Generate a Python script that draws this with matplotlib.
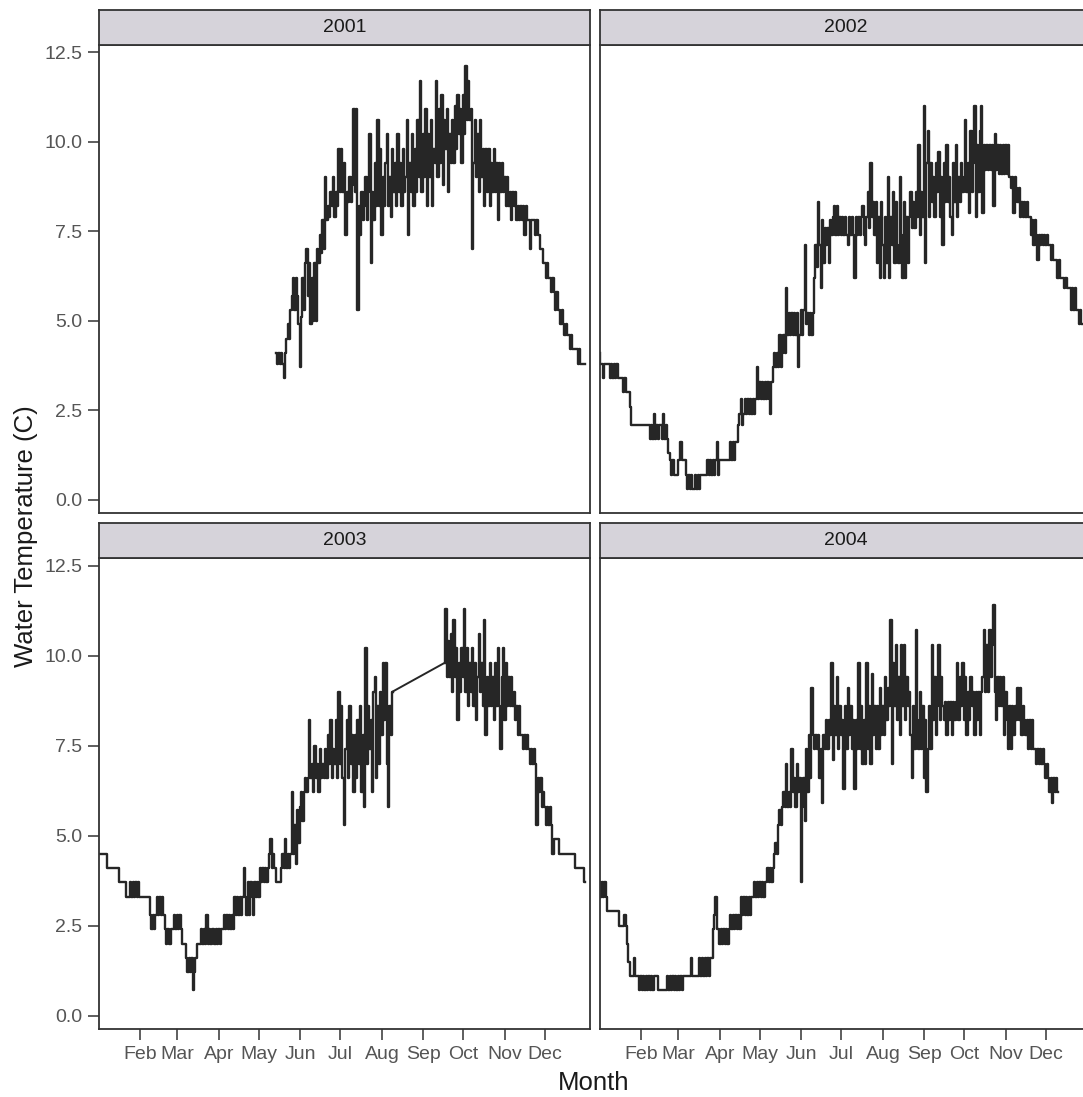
import numpy as np
import matplotlib
matplotlib.use("Agg")
import matplotlib.pyplot as plt

plt.rcParams['font.family'] = ['Liberation Sans', 'DejaVu Sans']

# water temperature (C), one reading per day
# first day-of-year of each series is given separately
start_2001 = 134
temp_2001 = [
    4.1, 3.8, 4.1, 3.8, 4.1, 3.8, 3.4, 4.1, 4.5, 4.9,
    4.5, 5.3, 5.7, 6.2, 5.3, 6.2, 5.7, 4.9, 3.7, 5.1,
    6.2, 5.3, 6.6, 7.0, 5.7, 6.6, 4.9, 6.2, 5.0, 6.6,
    5.0, 7.0, 6.6, 7.4, 6.9, 7.8, 7.0, 9.0, 7.8, 8.2,
    7.9, 8.6, 8.2, 9.0, 7.9, 8.6, 8.2, 9.8, 8.6, 9.8,
    8.6, 9.4, 7.4, 8.6, 8.3, 9.0, 8.3, 8.8, 10.9, 8.6,
    10.9, 5.3, 8.2, 7.4, 8.6, 7.8, 8.2, 9.0, 7.8, 8.6,
    10.2, 6.6, 8.6, 7.8, 9.4, 8.2, 10.6, 8.2, 9.8, 7.4,
    9.0, 8.2, 9.4, 10.2, 8.2, 9.0, 7.9, 9.8, 8.6, 9.4,
    8.2, 10.2, 8.6, 9.4, 8.2, 9.8, 8.6, 9.0, 10.6, 7.4,
    9.4, 8.6, 10.2, 8.2, 9.8, 8.6, 10.6, 9.0, 11.7, 8.6,
    10.2, 9.0, 10.9, 8.2, 10.2, 9.0, 10.6, 8.2, 9.8, 9.4,
    11.7, 9.0, 10.9, 9.4, 11.3, 8.8, 10.6, 9.8, 10.9, 8.6,
    10.2, 9.4, 10.6, 9.4, 11.0, 9.8, 11.3, 10.2, 10.9, 9.4,
    11.3, 10.2, 12.1, 10.6, 11.7, 10.6, 10.9, 7.0, 9.4, 10.6,
    9.0, 10.2, 8.6, 10.6, 9.0, 9.8, 8.2, 9.8, 8.6, 9.8,
    8.2, 9.4, 8.6, 9.8, 8.6, 9.4, 7.8, 9.4, 8.6, 9.4,
    8.6, 9.0, 8.2, 9.0, 8.2, 8.6, 7.8, 8.6, 8.2, 8.6,
    7.8, 8.2, 7.8, 8.2, 7.8, 8.2, 7.4, 8.2, 7.8, 7.8,
    7.0, 7.8, 7.8, 7.8, 7.4, 7.8, 7.4, 7.4, 7.0, 7.0,
    6.6, 6.6, 6.2, 6.6, 6.2, 6.2, 5.8, 6.2, 5.8, 5.3,
    5.8, 5.3, 5.3, 4.9, 5.3, 4.9, 4.6, 4.9, 4.6, 4.6,
    4.2, 4.6, 4.2, 4.2, 4.2, 4.2, 3.8, 4.2, 3.8, 3.8,
    3.8, 3.8,
]

start_2002 = 1
temp_2002 = [
    4.1, 3.8, 3.8, 3.4, 3.8, 3.8, 3.8, 3.8, 3.4, 3.8,
    3.4, 3.8, 3.4, 3.8, 3.4, 3.4, 3.4, 3.4, 3.0, 3.4,
    3.0, 3.0, 3.0, 2.6, 2.1, 2.1, 2.1, 2.1, 2.1, 2.1,
    2.1, 2.1, 2.1, 2.1, 2.1, 2.1, 2.1, 2.1, 1.7, 2.1,
    1.7, 2.4, 1.7, 2.1, 1.7, 2.1, 2.1, 1.7, 2.4, 1.7,
    2.1, 1.7, 1.3, 1.1, 0.7, 1.1, 0.7, 0.7, 0.7, 1.1,
    1.1, 1.6, 1.1, 1.1, 1.1, 0.7, 0.3, 0.7, 0.3, 0.7,
    0.3, 0.3, 0.7, 0.3, 0.7, 0.3, 0.7, 0.7, 0.7, 0.7,
    0.7, 1.1, 0.7, 1.1, 0.7, 1.1, 0.7, 1.1, 1.6, 0.7,
    1.1, 1.1, 1.1, 1.1, 1.1, 1.1, 1.1, 1.1, 1.6, 1.1,
    1.6, 1.1, 1.6, 1.6, 2.1, 2.4, 2.8, 2.1, 2.4, 2.8,
    2.4, 2.8, 2.4, 2.8, 2.4, 2.8, 2.4, 2.8, 3.7, 2.8,
    3.3, 2.8, 3.3, 2.8, 3.3, 2.8, 3.3, 2.8, 2.4, 3.3,
    3.7, 4.1, 3.7, 4.1, 3.7, 4.6, 3.7, 4.1, 4.6, 4.1,
    5.9, 4.6, 5.2, 4.6, 5.2, 4.6, 5.2, 4.6, 5.2, 3.7,
    4.6, 5.3, 4.6, 5.3, 7.1, 4.9, 5.2, 4.6, 5.2, 4.6,
    5.2, 6.2, 7.1, 6.5, 8.3, 7.1, 5.9, 7.8, 6.6, 7.6,
    7.1, 7.6, 6.6, 7.8, 7.4, 7.9, 8.2, 7.4, 8.2, 7.4,
    7.9, 7.4, 7.9, 7.4, 7.9, 7.4, 7.1, 7.9, 7.4, 7.9,
    7.4, 6.2, 7.9, 7.4, 7.9, 7.4, 7.9, 8.2, 7.4, 7.1,
    7.9, 8.6, 7.6, 9.4, 7.9, 8.3, 7.4, 8.3, 6.6, 7.9,
    6.2, 8.3, 7.1, 6.2, 7.9, 6.6, 9.0, 6.2, 7.9, 7.1,
    8.6, 6.6, 8.3, 7.1, 6.6, 9.0, 7.4, 6.2, 8.3, 6.2,
    7.9, 6.6, 7.9, 8.6, 7.6, 8.3, 7.6, 8.6, 7.9, 9.9,
    7.4, 8.6, 7.9, 11.0, 6.6, 9.4, 10.3, 7.9, 9.4, 8.3,
    9.0, 7.9, 9.4, 8.6, 9.7, 7.9, 9.0, 7.1, 9.4, 8.3,
    9.9, 8.3, 9.0, 7.9, 7.4, 9.4, 8.3, 9.9, 7.9, 9.0,
    8.3, 9.4, 8.6, 9.0, 10.6, 8.6, 9.4, 8.0, 10.3, 8.6,
    9.4, 11.0, 7.9, 9.9, 8.6, 10.3, 11.0, 8.0, 9.9, 9.2,
    9.9, 9.2, 9.9, 9.2, 9.9, 8.2, 10.2, 9.2, 9.9, 9.1,
    9.9, 9.1, 9.9, 9.1, 9.9, 9.1, 9.9, 9.0, 8.7, 9.0,
    8.0, 9.0, 8.7, 8.3, 8.7, 7.9, 8.3, 7.9, 8.3, 7.9,
    8.3, 7.9, 7.9, 7.4, 7.8, 7.1, 7.8, 7.4, 6.7, 7.4,
    7.1, 7.4, 7.1, 7.4, 7.1, 7.4, 7.1, 7.1, 6.7, 7.1,
    6.7, 6.7, 6.7, 6.2, 6.7, 6.2, 6.2, 6.2, 5.9, 6.2,
    5.9, 5.9, 5.9, 5.3, 5.9, 5.3, 5.9, 5.3, 5.3, 4.9,
    5.3, 4.9, 4.9, 4.9, 4.9,
]

# 2003 has a logger gap between early August and mid September
start_2003a = 1
temp_2003a = [
    4.5, 4.5, 4.5, 4.5, 4.5, 4.5, 4.5, 4.1, 4.1, 4.1,
    4.1, 4.1, 4.1, 4.1, 4.1, 4.1, 3.7, 3.7, 3.7, 3.7,
    3.7, 3.3, 3.3, 3.3, 3.7, 3.3, 3.7, 3.3, 3.7, 3.3,
    3.7, 3.3, 3.3, 3.3, 3.3, 3.3, 3.3, 3.3, 3.3, 2.8,
    2.4, 2.8, 2.4, 2.8, 3.3, 2.8, 3.3, 2.8, 3.3, 2.8,
    2.4, 2.0, 2.4, 2.0, 2.0, 2.4, 2.4, 2.8, 2.4, 2.8,
    2.4, 2.8, 2.4, 2.0, 2.0, 2.0, 1.6, 1.2, 1.6, 1.2,
    1.6, 0.7, 1.2, 1.6, 2.0, 2.0, 2.0, 2.4, 2.0, 2.4,
    2.0, 2.8, 2.0, 2.4, 2.0, 2.4, 2.4, 2.0, 2.4, 2.0,
    2.4, 2.0, 2.4, 2.4, 2.8, 2.4, 2.8, 2.4, 2.8, 2.4,
    2.8, 2.4, 3.3, 2.8, 3.3, 2.8, 3.3, 2.8, 3.3, 4.1,
    3.3, 2.8, 3.7, 2.8, 3.7, 3.3, 2.8, 3.7, 3.3, 3.7,
    3.3, 4.1, 3.7, 4.1, 3.7, 4.1, 3.7, 4.1, 4.5, 4.9,
    4.1, 4.5, 4.1, 3.7, 3.7, 3.7, 3.7, 4.1, 4.5, 4.1,
    4.9, 4.1, 4.5, 4.1, 4.5, 6.2, 4.5, 5.3, 4.2, 5.7,
    4.8, 5.8, 6.2, 5.4, 6.2, 6.6, 6.2, 6.6, 8.2, 6.6,
    7.0, 6.2, 7.5, 6.6, 7.0, 6.2, 7.4, 6.6, 7.0, 6.6,
    7.4, 6.6, 7.8, 7.0, 8.2, 6.6, 7.4, 7.0, 8.2, 6.6,
    9.0, 7.0, 8.6, 6.6, 5.3, 7.4, 8.2, 6.6, 8.6, 7.0,
    7.8, 6.2, 7.8, 6.6, 8.2, 7.0, 8.6, 6.2, 7.8, 5.8,
    10.2, 7.0, 8.6, 7.4, 8.2, 6.2, 9.0, 9.4, 6.6, 8.6,
    7.0, 9.0, 7.8, 9.8, 8.2, 9.8, 7.0, 5.8, 8.6, 7.8,
    9.0,
]
start_2003b = 260
temp_2003b = [
    9.8, 11.3, 9.4, 10.4, 9.4, 10.6, 9.0, 11.0, 9.4, 10.2,
    8.2, 9.8, 9.0, 10.2, 9.4, 11.3, 9.0, 10.2, 8.6, 9.8,
    9.0, 10.2, 8.6, 9.8, 8.2, 9.4, 10.6, 9.0, 9.8, 8.6,
    11.0, 7.8, 9.4, 8.6, 9.8, 8.6, 9.4, 8.2, 9.8, 8.6,
    10.2, 8.6, 7.4, 9.4, 10.2, 8.2, 9.8, 8.6, 9.4, 8.6,
    9.4, 8.6, 9.0, 8.2, 8.6, 7.8, 8.6, 7.8, 7.8, 7.4,
    7.8, 7.4, 7.8, 7.4, 7.0, 7.4, 7.0, 7.4, 7.0, 5.3,
    6.6, 6.2, 6.6, 5.8, 6.2, 5.8, 5.3, 5.8, 5.3, 5.8,
    5.3, 4.5, 4.9, 4.9, 4.9, 4.9, 4.5, 4.5, 4.5, 4.5,
    4.5, 4.5, 4.5, 4.5, 4.5, 4.5, 4.5, 4.5, 4.1, 4.1,
    4.1, 4.1, 4.1, 4.1, 4.1, 3.7,
]

start_2004 = 1
temp_2004 = [
    3.7, 3.3, 3.7, 3.3, 3.7, 3.3, 2.9, 2.9, 2.9, 2.9,
    2.9, 2.9, 2.9, 2.9, 2.9, 2.5, 2.5, 2.5, 2.5, 2.8,
    2.5, 2.0, 1.5, 1.1, 1.1, 1.1, 1.6, 1.1, 1.1, 1.1,
    0.7, 1.1, 0.7, 1.1, 0.7, 1.1, 0.7, 1.1, 0.7, 1.1,
    0.7, 1.1, 1.1, 1.1, 0.7, 0.7, 0.7, 0.7, 0.7, 0.7,
    0.7, 1.1, 0.7, 1.1, 0.7, 1.1, 0.7, 1.1, 0.7, 1.1,
    0.7, 1.1, 0.7, 1.1, 1.1, 1.1, 1.1, 1.1, 1.1, 1.6,
    1.1, 1.1, 1.1, 1.1, 1.1, 1.6, 1.1, 1.6, 1.1, 1.6,
    1.1, 1.6, 1.1, 1.6, 1.6, 2.4, 2.8, 3.3, 2.4, 2.4,
    2.0, 2.4, 2.0, 2.4, 2.0, 2.4, 2.0, 2.4, 2.8, 2.4,
    2.8, 2.4, 2.8, 2.4, 2.8, 2.4, 3.3, 2.8, 3.3, 2.8,
    3.3, 2.8, 3.3, 2.8, 3.3, 3.3, 3.7, 3.3, 3.7, 3.3,
    3.7, 3.3, 3.7, 3.3, 3.7, 3.7, 4.1, 3.7, 4.1, 3.7,
    4.1, 4.5, 4.8, 4.5, 5.3, 5.7, 5.3, 5.8, 6.2, 5.8,
    7.0, 5.8, 6.2, 5.8, 7.4, 6.2, 6.6, 5.8, 7.0, 6.2,
    6.6, 3.7, 5.8, 6.6, 5.4, 7.4, 6.2, 7.8, 6.6, 9.1,
    7.8, 7.4, 7.8, 7.4, 7.8, 6.6, 7.4, 5.9, 7.8, 7.4,
    8.2, 7.4, 8.2, 7.8, 9.8, 7.1, 8.6, 7.8, 9.4, 7.4,
    8.6, 7.8, 8.2, 6.3, 8.6, 7.4, 9.1, 7.8, 8.6, 7.4,
    8.2, 6.3, 8.2, 7.4, 9.8, 7.4, 8.6, 7.0, 8.2, 7.0,
    9.8, 7.4, 8.6, 7.0, 9.5, 7.8, 8.6, 7.4, 8.6, 7.4,
    9.1, 7.8, 8.6, 7.8, 9.4, 8.2, 9.1, 8.6, 11.0, 7.0,
    9.8, 8.6, 10.3, 8.2, 9.4, 7.8, 10.3, 8.6, 10.3, 8.2,
    9.4, 8.6, 9.0, 7.8, 6.6, 8.6, 7.4, 10.7, 8.2, 7.4,
    9.0, 7.4, 8.6, 6.6, 8.2, 6.2, 7.4, 8.6, 7.4, 10.3,
    8.2, 9.4, 7.8, 8.6, 10.3, 8.2, 9.4, 8.6, 8.2, 8.7,
    7.8, 8.7, 8.2, 8.7, 7.8, 8.7, 8.2, 8.7, 9.8, 8.2,
    9.4, 8.6, 9.8, 8.2, 9.4, 7.8, 9.0, 8.2, 9.4, 8.6,
    9.0, 7.8, 9.0, 8.2, 9.0, 7.8, 9.0, 9.4, 10.7, 9.0,
    10.3, 9.0, 10.7, 9.4, 10.3, 11.4, 9.0, 8.2, 9.4, 8.6,
    9.4, 8.6, 9.4, 7.8, 9.0, 8.2, 7.4, 8.6, 7.4, 8.6,
    7.8, 8.6, 8.2, 9.1, 8.2, 9.1, 7.8, 8.6, 8.2, 7.8,
    8.2, 7.4, 8.2, 7.4, 8.2, 7.4, 7.4, 7.0, 7.4, 7.0,
    7.4, 7.0, 7.4, 7.0, 6.6, 7.0, 6.6, 6.2, 6.6, 5.9,
    6.6, 6.2, 6.6, 6.2,
]

month_days = [32, 60, 91, 121, 152, 182, 213, 244, 274, 305, 335]
month_labels = ['Feb', 'Mar', 'Apr', 'May', 'Jun', 'Jul', 'Aug', 'Sep', 'Oct', 'Nov', 'Dec']
temp_ticks = [0.0, 2.5, 5.0, 7.5, 10.0, 12.5]


def daily(start, temps):
    return np.arange(start, start + len(temps)), np.array(temps)


# each panel is a list of runs of consecutive days
panels = [
    ('2001', [daily(start_2001, temp_2001)]),
    ('2002', [daily(start_2002, temp_2002)]),
    ('2003', [daily(start_2003a, temp_2003a), daily(start_2003b, temp_2003b)]),
    ('2004', [daily(start_2004, temp_2004)]),
]

W, H = 1083, 1097
fig = plt.figure(figsize=(W / 100, H / 100), dpi=100)

# panel boxes in pixels (left, top, right, bottom); right column runs off the page
boxes = [(99, 44.5, 590, 513), (600, 44.5, 1091, 513),
         (99, 558, 590, 1029), (600, 558, 1091, 1029)]
strip_h = 35

line_col = '#262626'
edge_col = '#333333'
tick_col = '#555555'

for i, (name, runs) in enumerate(panels):
    l, top, r, b = boxes[i]
    ax = fig.add_axes([l / W, 1 - b / H, (r - l) / W, (b - top) / H])
    for k, (d, t) in enumerate(runs):
        ax.plot(d, t, color=line_col, lw=1.7, drawstyle='steps-mid')
        if k > 0:
            # straight join across the missing stretch
            pd_, pt_ = runs[k - 1]
            ax.plot([pd_[-1], d[0]], [pt_[-1], t[0]], color=line_col, lw=1.4)
    ax.set_xlim(1.3, 368.7)
    ax.set_ylim(-0.37, 12.71)
    for s in ax.spines.values():
        s.set_color(edge_col)
        s.set_linewidth(1.3)
    ax.set_xticks(month_days)
    ax.set_yticks(temp_ticks)
    ax.tick_params(length=8, width=1.1, color=edge_col, labelcolor=tick_col,
                   labelsize=14, pad=4)
    if i >= 2:
        ax.set_xticklabels(month_labels)
    else:
        ax.tick_params(axis='x', bottom=False, labelbottom=False)
    if i % 2 == 0:
        ax.set_yticklabels(['%.1f' % v for v in temp_ticks])
    else:
        ax.tick_params(axis='y', left=False, labelleft=False)

    # facet strip
    sax = fig.add_axes([l / W, 1 - top / H, (r - l) / W, strip_h / H])
    sax.set_facecolor('#d6d3da')
    sax.set_xticks([])
    sax.set_yticks([])
    for s in sax.spines.values():
        s.set_color(edge_col)
        s.set_linewidth(1.3)
    sax.text(0.5, 0.5, name, transform=sax.transAxes, ha='center', va='center',
             fontsize=14, color='#1a1a1a')

fig.text(26 / W, 1 - 536 / H, 'Water Temperature (C)', rotation=90,
         ha='center', va='center', fontsize=18.5, color='#1a1a1a')
fig.text(594 / W, 1 - 1083 / H, 'Month', ha='center', va='center',
         fontsize=18.5, color='#1a1a1a')

fig.savefig('out.png', dpi=100)
